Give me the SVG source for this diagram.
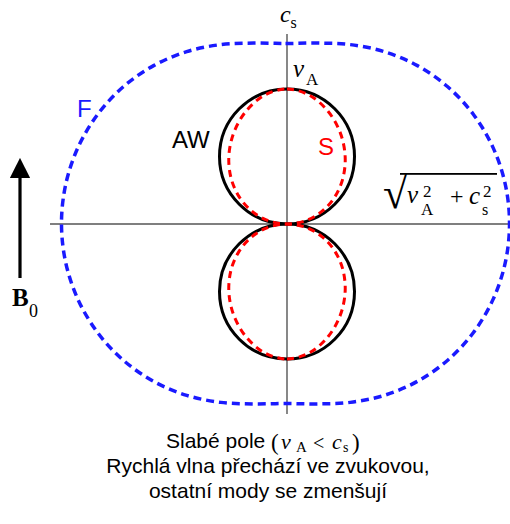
<svg xmlns="http://www.w3.org/2000/svg" xmlns:xlink="http://www.w3.org/1999/xlink" width="510" height="524" viewBox="0 0 510 524">
<style>
.axis{stroke:#555;stroke-width:1.4;fill:none}
.aw{stroke:#000;stroke-width:3;fill:none}
.slow{stroke:#f00;stroke-width:3;fill:none;stroke-dasharray:7 5}
.fast{stroke:#1a1aff;stroke-width:3.5;fill:none;stroke-dasharray:8 5}
.lab{font-family:"Liberation Sans",Arial,sans-serif;font-size:24px}
.m{font-family:"Liberation Serif","Times New Roman",serif}
.mi{font-family:"Liberation Serif","Times New Roman",serif;font-style:italic}
.cap{font-family:"Liberation Sans",Arial,sans-serif;font-size:21px;fill:#000}
</style>
<defs>
<marker id="ah" viewBox="0 0 10 10" refX="1" refY="5" markerWidth="6.3" markerHeight="6.3" markerUnits="strokeWidth" orient="auto">
<path d="M0,0 L10,5 L0,10 Z" fill="#000"/>
</marker>
<path id="slowlobe" d="M 287 89 C 294.56 89 302.84 91.64 309.68 95.35 C 316.52 99.06 322.97 105.14 328.03 111.27 C 333.09 117.41 337.19 124.91 340.03 132.16 C 342.87 139.42 344.52 147.36 345.06 154.80 C 345.60 162.24 344.89 169.90 343.26 176.79 C 341.63 183.68 338.78 190.40 335.27 196.13 C 331.76 201.86 327.16 207.09 322.20 211.19 C 317.24 215.29 311.40 218.60 305.53 220.73 C 299.66 222.87 293.18 224 287 224 C 280.82 224 274.34 222.87 268.47 220.73 C 262.60 218.60 256.76 215.29 251.80 211.19 C 246.84 207.09 242.24 201.86 238.73 196.13 C 235.22 190.40 232.37 183.68 230.74 176.79 C 229.11 169.90 228.40 162.24 228.94 154.80 C 229.48 147.36 231.13 139.42 233.97 132.16 C 236.81 124.91 240.91 117.41 245.97 111.27 C 251.03 105.14 257.48 99.06 264.32 95.35 C 271.16 91.64 279.44 89 287 89 Z"/>
</defs>

<g id="axes">
<line class="axis" x1="287" y1="34" x2="287" y2="414"/>
<line class="axis" x1="50" y1="224" x2="510" y2="224"/>
</g>

<g id="fast-mode">
<path class="fast" transform="translate(285.5,223.5) scale(0.9956,1)" d="M 0 -180 C 10.60 -180 20.96 -180.61 31.81 -180.42 C 42.66 -180.23 53.88 -180.31 65.11 -178.88 C 76.35 -177.45 87.99 -175.36 99.22 -171.86 C 110.45 -168.36 121.84 -163.72 132.46 -157.86 C 143.08 -152.00 153.53 -144.85 162.92 -136.71 C 172.31 -128.57 181.20 -119.14 188.79 -109.00 C 196.38 -98.86 203.15 -87.56 208.48 -75.88 C 213.82 -64.20 218.05 -51.58 220.80 -38.93 C 223.55 -26.28 225 -12.98 225 0 C 225 12.98 223.55 26.28 220.80 38.93 C 218.05 51.58 213.82 64.20 208.48 75.88 C 203.15 87.56 196.38 98.86 188.79 109.00 C 181.20 119.14 172.31 128.57 162.92 136.71 C 153.53 144.85 143.08 152.00 132.46 157.86 C 121.84 163.72 110.45 168.36 99.22 171.86 C 87.99 175.36 76.35 177.45 65.11 178.88 C 53.88 180.31 42.66 180.23 31.81 180.42 C 20.96 180.61 10.60 180 0 180 C -10.60 180 -20.96 180.61 -31.81 180.42 C -42.66 180.23 -53.88 180.31 -65.11 178.88 C -76.35 177.45 -87.99 175.36 -99.22 171.86 C -110.45 168.36 -121.84 163.72 -132.46 157.86 C -143.08 152.00 -153.53 144.85 -162.92 136.71 C -172.31 128.57 -181.20 119.14 -188.79 109.00 C -196.38 98.86 -203.15 87.56 -208.48 75.88 C -213.82 64.20 -218.05 51.58 -220.80 38.93 C -223.55 26.28 -225 12.98 -225 0 C -225 -12.98 -223.55 -26.28 -220.80 -38.93 C -218.05 -51.58 -213.82 -64.20 -208.48 -75.88 C -203.15 -87.56 -196.38 -98.86 -188.79 -109.00 C -181.20 -119.14 -172.31 -128.57 -162.92 -136.71 C -153.53 -144.85 -143.08 -152.00 -132.46 -157.86 C -121.84 -163.72 -110.45 -168.36 -99.22 -171.86 C -87.99 -175.36 -76.35 -177.45 -65.11 -178.88 C -53.88 -180.31 -42.66 -180.23 -31.81 -180.42 C -20.96 -180.61 -10.60 -180 0 -180 Z"/>
<text class="lab" x="77" y="117" fill="#1a1aff">F</text>
</g>

<g id="alfven-wave">
<circle class="aw" cx="287" cy="156.5" r="67.5"/>
<circle class="aw" cx="287" cy="291.5" r="67.5"/>
<text class="lab" x="172" y="148" fill="#000" font-size="25">AW</text>
</g>

<g id="slow-mode">
<use xlink:href="#slowlobe" class="slow"/>
<use xlink:href="#slowlobe" class="slow" transform="translate(0,448) scale(1,-1)"/>
<text class="lab" x="318" y="155" fill="#f00">S</text>
</g>

<g id="axis-labels" fill="#000">
<text class="mi" x="280" y="22" font-size="24">c</text>
<text class="m" x="290.5" y="28" font-size="16">s</text>
<text class="mi" x="293" y="77" font-size="25">v</text>
<text class="m" x="306" y="85" font-size="17">A</text>
</g>

<g id="sqrt-label">
<text class="m" x="383" y="208" font-size="44" fill="#000">√</text>
<rect x="400" y="173" width="97" height="1.8" fill="#000"/>
<text class="mi" x="407" y="203" font-size="25" fill="#000">v</text>
<text class="m" x="421" y="215" font-size="17" fill="#000">A</text>
<text class="m" x="423" y="197" font-size="17" fill="#000">2</text>
<text class="m" x="450" y="204" font-size="24" fill="#000">+</text>
<text class="mi" x="469" y="204" font-size="25" fill="#000">c</text>
<text class="m" x="483" y="197" font-size="17" fill="#000">2</text>
<text class="m" x="482" y="215" font-size="16" fill="#000">s</text>
</g>

<g id="b0-arrow">
<line x1="20" y1="278" x2="20" y2="176" stroke="#000" stroke-width="3.2" marker-end="url(#ah)"/>
<text class="m" x="12" y="306" font-size="25" font-weight="bold">B</text>
<text class="m" x="29" y="317" font-size="18">0</text>
</g>

<g id="caption">
<text class="cap" x="166" y="448">Slabé pole </text>
<text class="m" x="271" y="450" font-size="23">(</text>
<text class="mi" x="281" y="449" font-size="22">v</text>
<text class="m" x="296" y="452" font-size="15">A</text>
<text class="m" x="313" y="450" font-size="20">&lt;</text>
<text class="mi" x="332" y="449" font-size="22">c</text>
<text class="m" x="343" y="452" font-size="14">s</text>
<text class="m" x="352" y="450" font-size="23">)</text>
<text class="cap" x="268" y="473" text-anchor="middle">Rychlá vlna přechází ve zvukovou,</text>
<text class="cap" x="268" y="498" text-anchor="middle">ostatní mody se zmenšují</text>
</g>
</svg>
